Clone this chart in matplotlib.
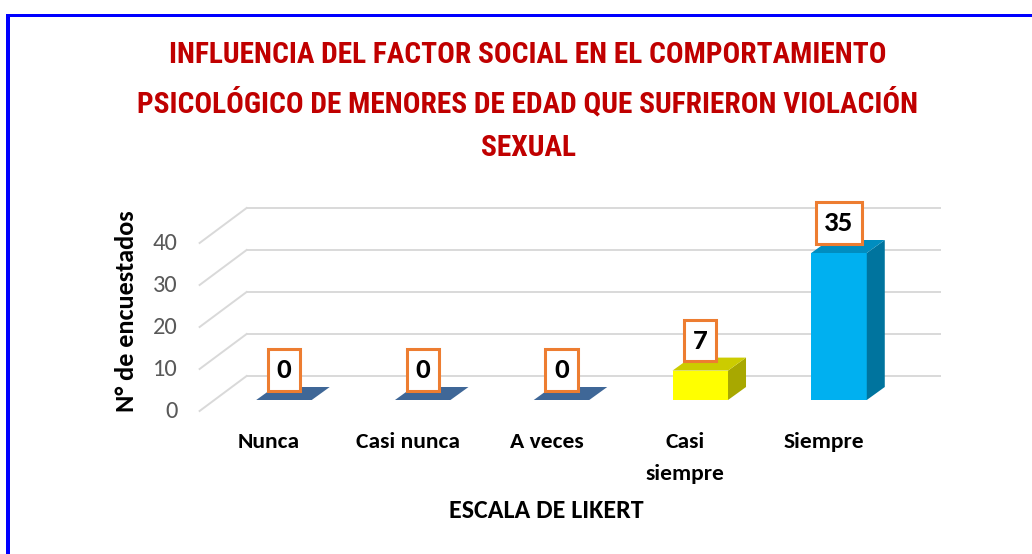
import numpy as np
import matplotlib
matplotlib.use('Agg')
import matplotlib.pyplot as plt
from matplotlib.patches import Polygon
from matplotlib.lines import Line2D
from matplotlib import font_manager as fm
import matplotlib.colors as mcolors

# ---------------- data ----------------
categories = ['Nunca', 'Casi nunca', 'A veces', 'Casi\nsiempre', 'Siempre']
values = [0, 0, 0, 7, 35]
bar_colors = ['#4F81BD', '#4F81BD', '#4F81BD', '#FFFF00', '#00B0F0']
y_ticks = [0, 10, 20, 30, 40]
title_lines = ['INFLUENCIA DEL FACTOR SOCIAL EN EL COMPORTAMIENTO',
               'PSICOLÓGICO DE MENORES DE EDAD QUE SUFRIERON VIOLACIÓN',
               'SEXUAL']
x_label = 'ESCALA DE LIKERT'
y_label = 'N° de encuestados'

# ---------------- fonts ----------------
names = {f.name for f in fm.fontManager.ttflist}


def pick(cands, default='DejaVu Sans'):
    for c in cands:
        if c in names:
            return c
    return default


title_font = pick(['Roboto Condensed', 'Liberation Sans Narrow', 'Open Sans Condensed',
                   'DejaVu Sans'])
label_font = pick(['Carlito', 'Lato', 'Open Sans'])

# ---------------- figure ----------------
W, H = 1032, 554
fig = plt.figure(figsize=(W / 100, H / 100), dpi=100)
renderer = fig.canvas.get_renderer()


def fx(px):
    return px / W


def fy(py):
    return 1 - py / H


def fit(texts, ref_text, target, vertical=False):
    ext = ref_text.get_window_extent(renderer)
    cur = ext.height if vertical else ext.width
    s = target / cur
    for t in texts:
        t.set_fontsize(t.get_fontsize() * s)


# axes = front plane of the bars
ax_left, ax_right = 214.6, 908.4
ax_top, ax_bottom = 232.0, 400.0
ymax = 40
ax = fig.add_axes([fx(ax_left), fy(ax_bottom), (ax_right - ax_left) / W,
                   (ax_bottom - ax_top) / H])
ax.set_xlim(-0.5, len(categories) - 0.5)
ax.set_ylim(0, ymax)
ax.axis('off')

ppx = (ax_right - ax_left) / len(categories)
ppy = (ax_bottom - ax_top) / ymax


def off(dx_px, dy_px):
    return dx_px / ppx, dy_px / ppy


back = off(32, 24)
front = off(-15, -11)
depth = off(18, 13)

x0, x1 = ax.get_xlim()
grid_color = '#D9D9D9'
tick_texts = []
for v in y_ticks:
    ax.plot([x0 + back[0], x1 + back[0]], [v + back[1]] * 2, color=grid_color,
            lw=1.4, clip_on=False, zorder=1)
    ax.plot([x0 + front[0], x0 + back[0]], [v + front[1], v + back[1]],
            color=grid_color, lw=1.4, clip_on=False, zorder=1)
    tick_texts.append(ax.annotate(str(v), xy=(x0 + front[0], v + front[1]), xytext=(-22, 0),
                                  textcoords='offset pixels', ha='right', va='center',
                                  color='#595959', fontsize=16, family=label_font,
                                  annotation_clip=False))
fit(tick_texts, tick_texts[-1], 25)

w = 0.4
dx, dy = depth
for i, (v, c) in enumerate(zip(values, bar_colors)):
    base = np.array(mcolors.to_rgb(c))
    top_c = base * 0.8
    side_c = base * 0.66
    xl, xr = i - w / 2, i + w / 2
    if v > 0:
        ax.add_patch(Polygon([(xl, 0), (xr, 0), (xr, v), (xl, v)], closed=True,
                             facecolor=c, edgecolor='none', clip_on=False, zorder=3))
        ax.add_patch(Polygon([(xr, 0), (xr + dx, dy), (xr + dx, v + dy), (xr, v)],
                             closed=True, facecolor=side_c, edgecolor='none',
                             clip_on=False, zorder=3))
    ax.add_patch(Polygon([(xl, v), (xr, v), (xr + dx, v + dy), (xl + dx, v + dy)],
                         closed=True, facecolor=top_c, edgecolor='none',
                         clip_on=False, zorder=3))
    ax.annotate(str(v), xy=(i, v), xytext=(0, 30), textcoords='offset pixels',
                ha='center', va='center', fontsize=21, fontweight='bold',
                family=label_font, zorder=5, annotation_clip=False,
                bbox=dict(boxstyle='square,pad=0.3', fc='white', ec='#ED7D31', lw=2.2))

cat_texts = []
for i, cat in enumerate(categories):
    cat_texts.append(ax.annotate(cat, xy=(i + front[0], front[1]), xytext=(0, -21),
                                 textcoords='offset pixels', ha='center', va='top',
                                 fontsize=17, fontweight='bold', family=label_font,
                                 linespacing=1.72, annotation_clip=False))
fit(cat_texts, cat_texts[0], 62)

xl_text = fig.text(fx(546), fy(510), x_label, ha='center', va='center', fontsize=18,
                   fontweight='bold', family=label_font)
fit([xl_text], xl_text, 195)
yl_text = fig.text(fx(126), fy(311), y_label, ha='center', va='center', rotation=90,
                   fontsize=18, fontweight='bold', family=label_font)
fit([yl_text], yl_text, 202, vertical=True)

# title
title_y = [55, 103, 148]
title_texts = [fig.text(fx(528), fy(yy), line, ha='center', va='center', fontsize=30,
                        fontweight='bold', color='#C00000', family=title_font,
                        fontstretch='condensed')
               for line, yy in zip(title_lines, title_y)]
fit(title_texts, title_texts[0], 715)

# blue border
fig.add_artist(Line2D([fx(8), fx(8)], [fy(14), fy(570)], color='#0000FF', lw=4 * 0.72,
                      transform=fig.transFigure, solid_capstyle='butt'))
fig.add_artist(Line2D([fx(6), fx(1050)], [fy(15), fy(15)], color='#0000FF', lw=3 * 0.72,
                      transform=fig.transFigure, solid_capstyle='butt'))

fig.savefig('out.png', dpi=100)
